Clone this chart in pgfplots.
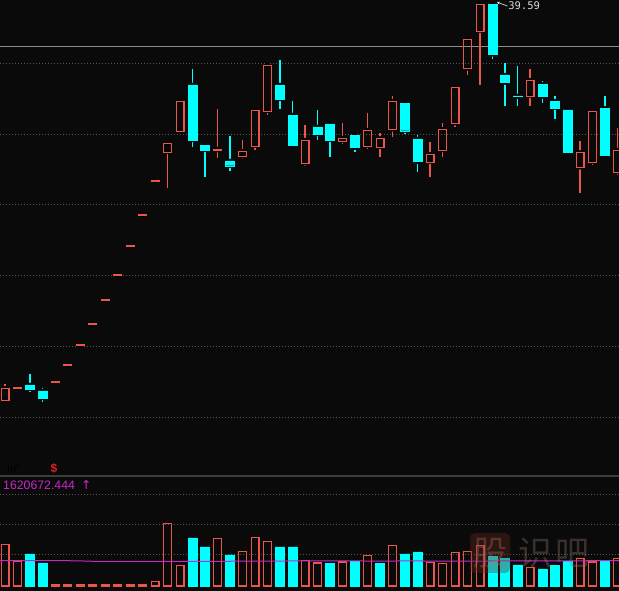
\documentclass[border=0pt]{standalone}
\usepackage{pgfplots}
\pgfplotsset{compat=1.18}
\usepackage{pgfplotstable}
\usepackage{fontspec}
\setmainfont{Liberation Sans}
\newfontfamily\monofont{DejaVu Sans Mono}
\newfontfamily\symfont{DejaVu Sans}
\newfontfamily\cjk{Noto Sans CJK SC}
\usetikzlibrary{arrows.meta}

\definecolor{bg}{RGB}{10,10,10}
\definecolor{kred}{RGB}{235,85,75}
\definecolor{kcyan}{RGB}{0,255,255}
\definecolor{gridc}{RGB}{85,85,85}
\definecolor{mag}{RGB}{200,40,200}
\definecolor{hline}{RGB}{140,140,140}
\definecolor{sep}{RGB}{60,60,60}
\definecolor{sred}{RGB}{225,30,30}
\definecolor{wmbox}{RGB}{110,40,30}
\definecolor{wmA}{RGB}{170,120,110}
\definecolor{wmB}{RGB}{150,120,110}

% rising candles (close >= open): index, open, high, low, close
\pgfplotstableread{
i O H L C
0 11.17 12.31 11.15 12.02
1 11.99 12.24 11.81 12.06
4 12.43 12.43 12.43 12.43
5 13.64 13.64 13.64 13.64
6 15.07 15.07 15.07 15.07
7 16.57 16.57 16.57 16.57
8 18.29 18.29 18.29 18.29
9 20.07 20.07 20.07 20.07
10 22.14 22.14 22.14 22.14
11 24.36 24.36 24.36 24.36
12 26.79 26.79 26.79 26.79
13 28.90 29.50 26.33 29.50
14 30.38 32.52 30.38 32.52
17 29.02 31.93 28.47 29.09
19 28.57 29.74 28.38 28.95
20 29.33 31.88 29.02 31.88
21 31.83 35.09 31.52 35.09
24 28.07 30.81 27.90 29.74
27 29.69 30.97 29.45 29.88
29 29.33 31.64 29.07 30.43
30 29.26 30.22 28.50 29.86
31 30.50 32.88 29.93 32.52
34 28.19 29.57 27.12 28.72
35 29.02 30.93 28.50 30.50
36 30.93 33.54 30.69 33.54
37 34.86 36.93 34.38 36.93
38 37.54 39.50 33.67 39.45
42 32.90 34.81 32.19 34.02
46 27.79 29.67 25.93 28.86
47 28.19 31.81 27.95 31.81
49 27.47 30.62 27.24 29.02
}\redtab

% falling candles (close < open)
\pgfplotstableread{
i O H L C
2 12.24 13.02 11.74 11.95
3 11.81 12.02 11.02 11.31
15 33.67 34.81 29.26 29.74
16 29.33 29.33 27.12 29.02
18 28.24 30.04 27.54 27.90
22 33.67 35.45 31.95 32.67
23 31.52 32.52 29.38 29.38
25 30.67 31.88 29.74 30.17
26 30.88 30.95 28.54 29.74
28 30.09 30.14 28.90 29.19
32 32.36 32.45 30.14 30.40
33 29.81 30.09 27.47 28.19
39 39.45 39.59 35.52 35.86
40 34.38 35.22 32.19 33.83
41 32.88 35.02 32.19 32.83
43 33.71 33.95 32.40 32.83
44 32.52 32.86 31.21 32.04
45 31.88 31.88 28.83 28.83
48 32.00 32.88 28.59 28.67
}\cyantab

\pgfplotstableread{
i v
0 625500
1 375000
4 15000
5 15000
6 15000
7 15000
8 15000
9 15000
10 15000
11 15000
12 70500
13 940500
14 310500
17 715500
19 520500
20 730500
21 670500
24 385500
25 345000
27 360000
29 460500
31 610500
34 355500
35 340500
36 505500
37 520500
38 610500
42 280500
46 409500
47 360000
49 409500
}\redvol

\pgfplotstableread{
i v
2 480000
3 345000
15 720000
16 585000
18 465000
22 585000
23 585000
26 334500
28 364500
30 334500
32 480000
33 510000
39 439500
40 415500
41 315000
43 255000
44 304500
45 364500
48 375000
}\cyanvol

\pgfplotstableread{
i v
-0.4 379500
5 379500
6 376500
7 370500
22 371500
23 378000
28 378000
29 373500
31 373500
32 378000
35 372000
38 372000
39 376500
49.12 379500
}\volma

\pgfplotsset{
  kax/.style={scale only axis, width=619bp, xmin=-0.4, xmax=49.12,
    axis line style={draw=none}, major tick length=0pt,
    xtick=\empty, yticklabels={}, clip mode=individual},
  kmain/.style={kax, at={(0,115bp)}, anchor=south west, height=476bp,
    ymin=5.737, ymax=39.737},
}

\begin{document}
\begin{tikzpicture}
\fill[bg] (0,0) rectangle (619bp,591bp);

% main price panel: grid, reference line, wicks
\begin{axis}[kmain,
  ytick={9.95,15,20.05,25.1,30.15,35.2}, ymajorgrids,
  grid style={gridc, line width=1bp, dash pattern=on 1bp off 2bp}]
\addplot[hline, line width=1bp] coordinates {(-0.4,36.38) (49.12,36.38)};
\addplot[only marks, mark=none, error bars/.cd, y dir=plus, y explicit, error mark=none,
  error bar style={line width=1.1bp, kred}]
  table[x=i, y expr={max(\thisrow{O},\thisrow{C})}, y error expr={\thisrow{H}-max(\thisrow{O},\thisrow{C})}] {\redtab};
\addplot[only marks, mark=none, error bars/.cd, y dir=minus, y explicit, error mark=none,
  error bar style={line width=1.1bp, kred}]
  table[x=i, y expr={min(\thisrow{O},\thisrow{C})}, y error expr={min(\thisrow{O},\thisrow{C})-\thisrow{L}}] {\redtab};
\addplot[only marks, mark=none, error bars/.cd, y dir=plus, y explicit, error mark=none,
  error bar style={line width=1.1bp, kcyan}]
  table[x=i, y expr={max(\thisrow{O},\thisrow{C})}, y error expr={\thisrow{H}-max(\thisrow{O},\thisrow{C})}] {\cyantab};
\addplot[only marks, mark=none, error bars/.cd, y dir=minus, y explicit, error mark=none,
  error bar style={line width=1.1bp, kcyan}]
  table[x=i, y expr={min(\thisrow{O},\thisrow{C})}, y error expr={min(\thisrow{O},\thisrow{C})-\thisrow{L}}] {\cyantab};
\draw[{Stealth[length=3bp,width=3bp]}-, white!85!black, line width=0.7bp]
  (axis cs:39.35,39.59) -- (axis cs:40.2,39.30)
  node[right, inner sep=0.5bp, font=\monofont\fontsize{10.5bp}{12bp}\selectfont] {39.59};
\end{axis}

% rising bodies (flat limit-up days get a one-pixel body so the dash shows)
\begin{axis}[kmain, ybar stacked, bar width=7.9bp]
\addplot[draw=none, fill=none] table[x=i, y expr={min(\thisrow{O},\thisrow{C})-0.03}] {\redtab};
\addplot[draw=kred, fill=none, line width=1.1bp] table[x=i, y expr={max(abs(\thisrow{C}-\thisrow{O}),0.06)}] {\redtab};
\end{axis}

% falling bodies
\begin{axis}[kmain, ybar stacked, bar width=8.8bp]
\addplot[draw=none, fill=none] table[x=i, y expr={min(\thisrow{O},\thisrow{C})}] {\cyantab};
\addplot[draw=kcyan, fill=kcyan, line width=0.4bp] table[x=i, y expr={abs(\thisrow{C}-\thisrow{O})}] {\cyantab};
\end{axis}

% volume panel
\begin{axis}[kax, at={(0,0)}, anchor=south west, height=115bp,
  ymin=-75000, ymax=1650000,
  ytick={465000,915000,1365000}, ymajorgrids,
  grid style={gridc, line width=1bp, dash pattern=on 1bp off 2bp}]
\addplot[ybar, bar shift=0pt, bar width=7.9bp, draw=kred, fill=none, line width=1.1bp]
  table[x=i, y=v] {\redvol};
\addplot[ybar, bar shift=0pt, bar width=8.8bp, draw=kcyan, fill=kcyan, line width=0.4bp]
  table[x=i, y=v] {\cyanvol};
\addplot[mag, line width=1bp, mark=none] table[x=i, y=v] {\volma};
\end{axis}

\draw[sep, line width=1.5bp] (0,115bp) -- (619bp,115bp);

\node[anchor=base west, inner sep=0pt, text=mag, font=\fontsize{12.3bp}{14bp}\selectfont]
  at (3bp,101bp) {1620672.444\hspace{6bp}{\symfont ↑}};
\node[text=sred, font=\bfseries\fontsize{12bp}{14bp}\selectfont, inner sep=0pt]
  at (54bp,123bp) {\$};

% watermark
\begin{scope}[opacity=0.35]
\fill[wmbox, rounded corners=5bp] (470bp,18bp) rectangle (510bp,58bp);
\node[text=wmA, font=\cjk\fontsize{34bp}{36bp}\selectfont, inner sep=0pt] at (490bp,38bp) {股};
\node[text=wmB, font=\cjk\fontsize{34bp}{36bp}\selectfont, inner sep=0pt] at (535bp,38bp) {识};
\node[text=wmB, font=\cjk\fontsize{34bp}{36bp}\selectfont, inner sep=0pt] at (572bp,38bp) {吧};
\end{scope}

\pgfresetboundingbox
\path[use as bounding box] (0,0) rectangle (619bp,591bp);
\end{tikzpicture}
\end{document}
